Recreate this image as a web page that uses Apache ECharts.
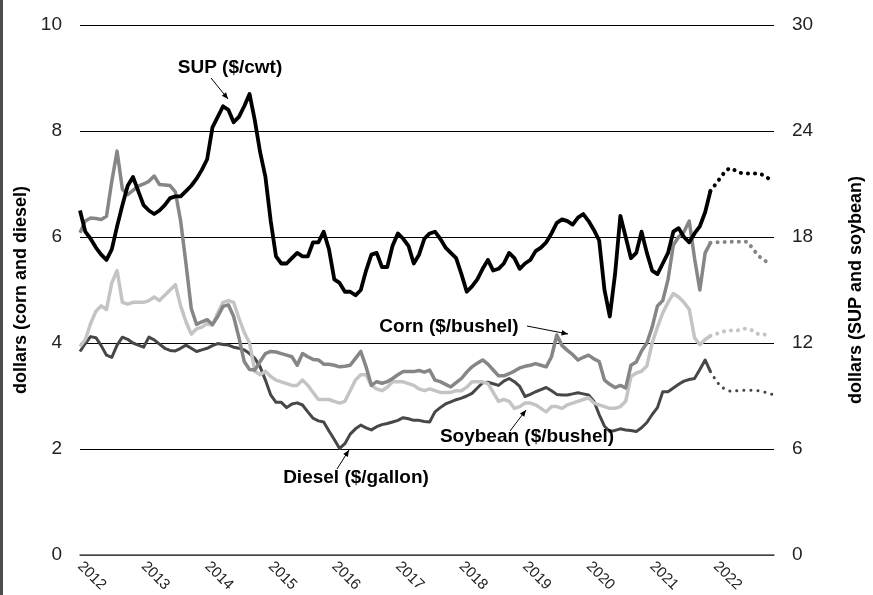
<!DOCTYPE html>
<html>
<head>
<meta charset="utf-8">
<script src="https://cdn.jsdelivr.net/npm/echarts@6/dist/echarts.min.js"></script>
<style>
  html, body { margin: 0; padding: 0; background: #fff; }
  #chart { width: 873px; height: 595px; }
</style>
</head>
<body>
<div id="chart"></div>
<script>
// years shown on the x axis (one category per month)
var years = ['2012','2013','2014','2015','2016','2017','2018','2019','2020','2021','2022'];

// SUP ($/cwt), right axis, Jan 2012 - Dec 2021
var sup = [19.5,18.3,17.9,17.4,17.0,16.7,17.3,18.6,19.8,20.9,
  21.4,20.6,19.8,19.5,19.3,19.5,19.8,20.2,20.3,20.3,
  20.6,20.9,21.3,21.8,22.4,24.2,24.8,25.4,25.2,24.5,
  24.8,25.4,26.1,24.6,22.8,21.4,18.9,16.9,16.5,16.5,
  16.8,17.1,16.9,16.9,17.7,17.7,18.3,17.3,15.6,15.4,
  14.9,14.9,14.7,15.0,16.1,17.0,17.1,16.3,16.3,17.5,
  18.2,17.9,17.5,16.5,17.0,17.9,18.2,18.3,17.9,17.4,
  17.1,16.8,15.9,14.9,15.2,15.6,16.2,16.7,16.1,16.2,
  16.5,17.1,16.8,16.2,16.5,16.7,17.2,17.4,17.7,18.2,
  18.8,19.0,18.9,18.7,19.1,19.3,18.9,18.4,17.8,15.0,
  13.5,15.9,19.2,18.0,16.8,17.1,18.3,17.1,16.1,15.9,
  16.5,17.1,18.3,18.5,18.0,17.7,18.2,18.6,19.4,20.6];
// forecast, Dec 2021 - Nov 2022
var supFc = [20.6,21.0,21.4,21.8,21.9,21.7,21.6,21.6,21.6,21.6,21.5,21.3];

// Corn ($/bushel), left axis
var corn = [6.08,6.30,6.36,6.35,6.33,6.39,7.05,7.62,6.90,6.80,
  6.88,6.96,7.00,7.05,7.15,6.99,6.98,6.97,6.85,6.30,
  5.50,4.65,4.35,4.40,4.44,4.35,4.50,4.69,4.72,4.50,
  4.10,3.65,3.50,3.49,3.65,3.80,3.84,3.83,3.80,3.77,
  3.74,3.58,3.80,3.74,3.69,3.68,3.60,3.60,3.58,3.55,
  3.56,3.58,3.71,3.84,3.55,3.20,3.27,3.24,3.27,3.33,
  3.40,3.46,3.46,3.46,3.48,3.45,3.49,3.30,3.27,3.22,
  3.17,3.25,3.33,3.45,3.55,3.62,3.68,3.60,3.49,3.38,
  3.38,3.42,3.47,3.53,3.56,3.58,3.61,3.58,3.55,3.74,
  4.15,3.95,3.86,3.78,3.68,3.73,3.77,3.70,3.65,3.30,
  3.22,3.16,3.20,3.15,3.58,3.64,3.85,4.00,4.30,4.70,
  4.80,5.20,5.85,6.00,6.10,6.30,5.60,5.00,5.70,5.89];
var cornFc = [5.89,5.90,5.90,5.91,5.91,5.91,5.91,5.91,5.78,5.65,5.57,5.51];

// Soybean ($/bushel), right axis
var soy = [11.8,12.2,13.1,13.8,14.1,13.9,15.4,16.1,14.3,14.2,
  14.3,14.3,14.3,14.4,14.6,14.4,14.7,15.0,15.3,14.1,
  13.2,12.5,12.8,12.9,13.1,13.0,13.7,14.3,14.4,14.3,
  13.4,12.6,12.0,10.4,10.2,10.4,10.1,9.9,9.8,9.7,
  9.6,9.6,9.9,9.6,9.2,8.8,8.8,8.8,8.7,8.6,
  8.7,9.3,9.9,10.2,10.2,9.6,9.4,9.3,9.5,9.8,
  9.8,9.8,9.7,9.6,9.4,9.3,9.4,9.3,9.2,9.2,
  9.2,9.3,9.3,9.5,9.8,9.8,9.8,9.7,9.2,8.7,
  8.8,8.7,8.3,8.4,8.6,8.6,8.5,8.3,8.1,8.4,
  8.4,8.3,8.5,8.6,8.7,8.8,8.9,8.6,8.5,8.4,
  8.3,8.3,8.4,8.7,10.1,10.3,10.4,10.7,12.0,12.9,
  13.7,14.3,14.8,14.6,14.3,13.9,12.3,11.9,12.2,12.4];
var soyFc = [12.4,12.5,12.6,12.7,12.7,12.7,12.8,12.8,12.7,12.5,12.5,12.4];

// Diesel ($/gallon), left axis
var diesel = [3.84,3.99,4.12,4.10,3.95,3.77,3.73,3.96,4.11,4.07,
  4.00,3.96,3.92,4.11,4.06,3.98,3.90,3.86,3.85,3.90,
  3.96,3.90,3.84,3.87,3.90,3.95,3.99,3.97,3.96,3.92,
  3.90,3.87,3.80,3.71,3.55,3.30,3.02,2.88,2.88,2.78,
  2.85,2.87,2.83,2.70,2.58,2.53,2.51,2.34,2.18,2.01,
  2.10,2.28,2.38,2.45,2.40,2.36,2.42,2.46,2.48,2.51,
  2.54,2.59,2.57,2.54,2.54,2.52,2.51,2.70,2.78,2.85,
  2.89,2.93,2.96,3.00,3.05,3.15,3.25,3.26,3.23,3.20,
  3.28,3.33,3.27,3.18,2.99,3.03,3.08,3.12,3.16,3.10,
  3.03,3.02,3.02,3.04,3.06,3.04,3.02,2.90,2.65,2.43,
  2.33,2.35,2.38,2.36,2.35,2.33,2.40,2.50,2.65,2.78,
  3.08,3.08,3.15,3.22,3.28,3.31,3.33,3.50,3.68,3.46];
var dieselFc = [3.46,3.30,3.17,3.12,3.08,3.10,3.11,3.11,3.11,3.10,3.08,3.05,3.02];

var FONT = 'Arial, "Liberation Sans", sans-serif';

// month categories
var months = [];
years.forEach(function(y) {
  for (var m = 1; m <= 12; m++) months.push(y + '-' + (m < 10 ? '0' + m : m));
});

// forecast starts where the actual series ends
function fc(actual, vals) {
  var out = [];
  for (var i = 0; i < actual.length - 1; i++) out.push(null);
  return out.concat(vals);
}

function solid(name, data, color, width, axis) {
  return {
    name: name, type: 'line', data: data, yAxisIndex: axis,
    showSymbol: false, symbol: 'none',
    lineStyle: { color: color, width: width, join: 'round' }
  };
}
function dotted(name, data, color, width, axis) {
  return {
    name: name + ' forecast', type: 'line', data: data, yAxisIndex: axis,
    showSymbol: false, symbol: 'none',
    lineStyle: { color: color, width: width, type: [0.1, 7], cap: 'round' }
  };
}

// arrow: line plus a small head at (x2, y2)
function arrow(x1, y1, x2, y2) {
  var a = Math.atan2(y2 - y1, x2 - x1), L = 7, W = 0.4;
  return [
    { type: 'line', shape: { x1: x1, y1: y1, x2: x2, y2: y2 }, style: { stroke: '#000', lineWidth: 1 }, z: 100 },
    { type: 'polygon', shape: { points: [
        [x2, y2],
        [x2 - L * Math.cos(a - W), y2 - L * Math.sin(a - W)],
        [x2 - L * Math.cos(a + W), y2 - L * Math.sin(a + W)]
      ] }, style: { fill: '#000' }, z: 100 }
  ];
}
function label(text, x, y) {
  return { type: 'text', x: x, y: y, z: 100,
    style: { text: text, font: 'bold 19px ' + FONT, fill: '#000', align: 'center', verticalAlign: 'middle' } };
}

var chart = echarts.init(document.getElementById('chart'));

chart.setOption({
  animation: false,
  backgroundColor: '#fff',
  grid: { left: 80, right: 76, top: 25, bottom: 40 },
  xAxis: {
    type: 'category', data: months, boundaryGap: false,
    axisLine: { lineStyle: { color: '#555', width: 1.5 } },
    axisTick: { show: false },
    axisLabel: {
      interval: function(i) { return i % 12 === 0; },
      formatter: function(v) { return v.slice(0, 4); },
      rotate: -45, margin: 9, fontSize: 15, color: '#222', fontFamily: FONT
    }
  },
  yAxis: [{
    type: 'value', min: 0, max: 10, interval: 2, position: 'left',
    name: 'dollars (corn and diesel)', nameLocation: 'middle', nameGap: 42, nameRotate: 90,
    nameTextStyle: { fontSize: 18, fontWeight: 'bold', color: '#000', fontFamily: FONT },
    axisLine: { show: false }, axisTick: { show: false },
    axisLabel: { fontSize: 19, color: '#222', margin: 18, fontFamily: FONT },
    splitLine: { lineStyle: { color: '#000', width: 1 } }
  }, {
    type: 'value', min: 0, max: 30, interval: 6, position: 'right',
    name: 'dollars (SUP and soybean)', nameLocation: 'middle', nameGap: 73, nameRotate: 90,
    nameTextStyle: { fontSize: 18, fontWeight: 'bold', color: '#000', fontFamily: FONT },
    axisLine: { show: false }, axisTick: { show: false },
    axisLabel: { fontSize: 19, color: '#222', margin: 18, fontFamily: FONT },
    splitLine: { show: false }
  }],
  series: [
    solid('Diesel ($/gallon)', diesel, '#474747', 3, 0),
    dotted('Diesel ($/gallon)', fc(diesel, dieselFc), '#474747', 3, 0),
    solid('Soybean ($/bushel)', soy, '#c4c4c4', 3.5, 1),
    dotted('Soybean ($/bushel)', fc(soy, soyFc), '#c4c4c4', 4, 1),
    solid('Corn ($/bushel)', corn, '#868686', 3.5, 0),
    dotted('Corn ($/bushel)', fc(corn, cornFc), '#868686', 4, 0),
    solid('SUP ($/cwt)', sup, '#000', 3.8, 1),
    dotted('SUP ($/cwt)', fc(sup, supFc), '#000', 4, 1)
  ],
  graphic: [
    { type: 'rect', shape: { x: 0, y: 0, width: 3, height: 595 }, style: { fill: '#4d4d4d' } },
    label('SUP ($/cwt)', 230, 68),
    label('Corn ($/bushel)', 449, 327),
    label('Soybean ($/bushel)', 527, 437),
    label('Diesel ($/gallon)', 356, 478)
  ].concat(arrow(211, 78, 228, 99))
   .concat(arrow(527, 326, 568, 334))
   .concat(arrow(510, 431, 526, 410))
   .concat(arrow(337, 469, 349, 450))
});
</script>
</body>
</html>
